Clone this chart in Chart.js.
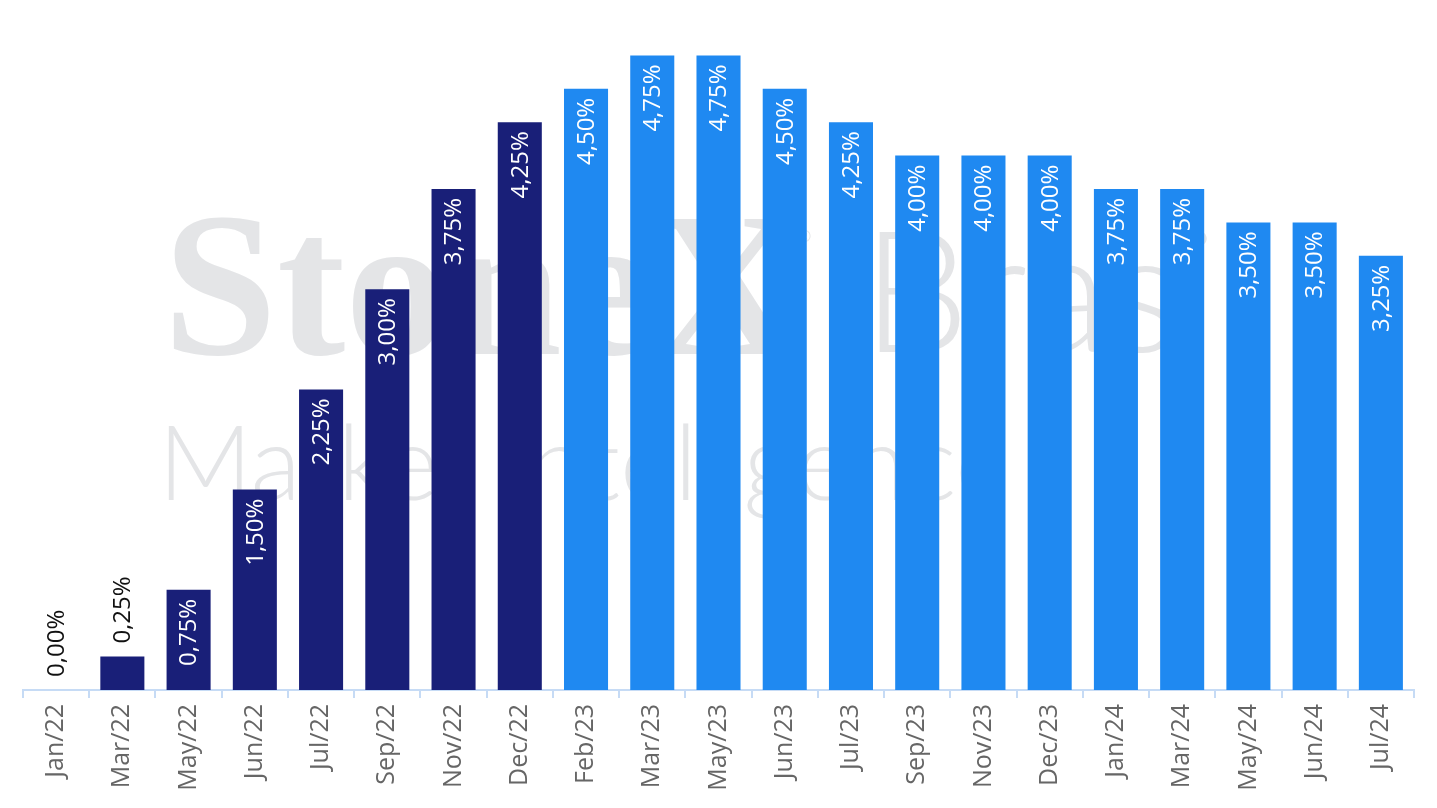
<!DOCTYPE html>
<html>
<head>
<meta charset="utf-8">
<script src="https://cdn.jsdelivr.net/npm/chart.js@4"></script>
<style>
  html, body { margin: 0; padding: 0; background: #fff; }
  #wrap { width: 1437px; height: 808px; position: relative; }
</style>
</head>
<body>
<div id="wrap"><canvas id="rateChart"></canvas></div>
<script>
// months of each rate decision
const months = ['Jan/22', 'Mar/22', 'May/22', 'Jun/22', 'Jul/22', 'Sep/22', 'Nov/22', 'Dec/22',
  'Feb/23', 'Mar/23', 'May/23', 'Jun/23', 'Jul/23', 'Sep/23', 'Nov/23', 'Dec/23',
  'Jan/24', 'Mar/24', 'May/24', 'Jun/24', 'Jul/24'];
// rate in % after each meeting
const rates = [0.00, 0.25, 0.75, 1.50, 2.25, 3.00, 3.75, 4.25,
  4.50, 4.75, 4.75, 4.50, 4.25, 4.00, 4.00, 4.00,
  3.75, 3.75, 3.50, 3.50, 3.25];
// 2022 bars in navy, the rest in light blue
const years = months.map(m => m.split('/')[1]);

const NAVY = '#191f78';
const BLUE = '#1f89f1';
const FONT = '"Open Sans", sans-serif';

function fmt(v) {
  return v.toFixed(2).replace('.', ',') + '%';
}

// faint logo text behind the bars
const watermark = {
  id: 'watermark',
  beforeDatasetsDraw(chart) {
    const ctx = chart.ctx;
    ctx.save();
    ctx.fillStyle = '#e4e5e7';
    ctx.textBaseline = 'alphabetic';
    ctx.textAlign = 'left';
    ctx.font = 'bold 205px "Liberation Serif", serif';
    ctx.fillText('StoneX', 163, 354);
    ctx.font = '16px ' + FONT;
    ctx.fillText('®', 798, 242);
    ctx.font = '300 170px Lato, sans-serif';
    ctx.fillText('Brasil', 862, 352);
    ctx.font = '300 104px Lato, sans-serif';
    ctx.fillText('Market Intelligence', 158, 500);
    ctx.restore();
  }
};

// rotated value labels, inside the bar top or just above short bars
const valueLabels = {
  id: 'valueLabels',
  afterDatasetsDraw(chart) {
    const ctx = chart.ctx;
    const meta = chart.getDatasetMeta(0);
    ctx.save();
    ctx.font = '24px ' + FONT;
    ctx.textBaseline = 'middle';
    meta.data.forEach((bar, i) => {
      const txt = fmt(rates[i]);
      const w = ctx.measureText(txt).width;
      const h = bar.base - bar.y;
      ctx.save();
      if (h > w + 20) {
        ctx.translate(bar.x, bar.y + 9);
        ctx.rotate(-Math.PI / 2);
        ctx.textAlign = 'right';
        ctx.fillStyle = '#ffffff';
      } else {
        ctx.translate(bar.x, bar.y - 13);
        ctx.rotate(-Math.PI / 2);
        ctx.textAlign = 'left';
        ctx.fillStyle = '#111111';
      }
      ctx.fillText(txt, 0, 1);
      ctx.restore();
    });
    ctx.restore();
  }
};

const ctx = document.getElementById('rateChart').getContext('2d');
const rateChart = new Chart(ctx, {
  type: 'bar',
  data: {
    labels: months,
    datasets: [{
      data: rates,
      backgroundColor: years.map(y => y === '22' ? NAVY : BLUE),
      barPercentage: 0.665,
      categoryPercentage: 1.0
    }]
  },
  options: {
    responsive: true,
    maintainAspectRatio: false,
    animation: false,
    layout: { padding: { left: 23, right: 23, top: 22, bottom: 0 } },
    plugins: {
      legend: { display: false },
      tooltip: { enabled: false }
    },
    scales: {
      x: {
        grid: {
          display: true,
          drawOnChartArea: false,
          drawTicks: true,
          tickLength: 8,
          color: '#c6dbf5',
          lineWidth: 2
        },
        border: { display: true, color: '#c6dbf5', width: 2 },
        ticks: {
          autoSkip: false,
          minRotation: 90,
          maxRotation: 90,
          padding: 6,
          color: '#666666',
          font: { family: FONT, size: 25 }
        },
        afterFit(scale) { scale.height = 118; }
      },
      y: {
        display: false,
        min: 0,
        max: 5
      }
    }
  },
  plugins: [watermark, valueLabels]
});
</script>
</body>
</html>
